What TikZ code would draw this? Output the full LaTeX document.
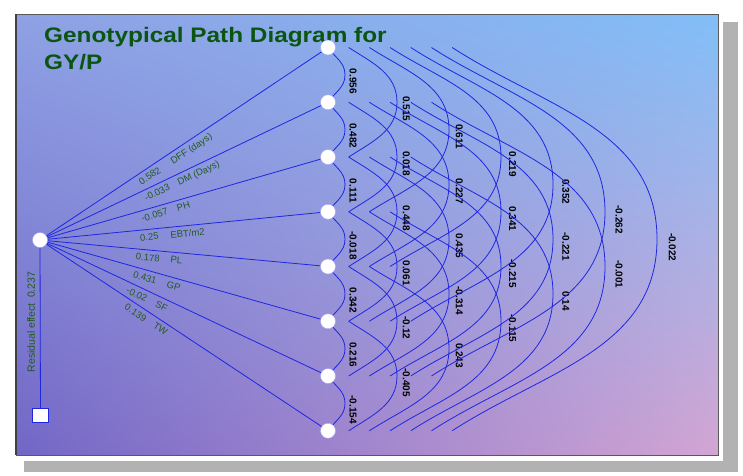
\documentclass[tikz,border=0pt]{standalone}
\usepackage{fontspec}
\setmainfont{Liberation Sans}
\newfontfamily\titlefont{Liberation Sans}[FakeStretch=1.16]
\usetikzlibrary{calc,shadings}
\pgfdeclarelayer{bg}
\pgfdeclarelayer{wires}
\pgfsetlayers{bg,wires,main}
\definecolor{pathblue}{HTML}{1E26E0}
\definecolor{titlegreen}{HTML}{0B5512}
\definecolor{labelgreen}{HTML}{235A23}
\definecolor{bgul}{HTML}{8FA1E4}
\definecolor{bgur}{HTML}{82BEF7}
\definecolor{bgll}{HTML}{7266C6}
\definecolor{bglr}{HTML}{D3A5D3}
\tikzset{
  trait/.style={circle, draw=blue!35, fill=white, minimum size=15pt, inner sep=0pt},
  resbox/.style={draw=pathblue, fill=white, minimum width=16pt, minimum height=14pt, inner sep=0pt},
  coef/.style={font=\fontsize{9.5}{9.5}\selectfont, text=labelgreen, inner sep=1.5pt},
  corr/.style={font=\fontsize{10}{10}\selectfont\bfseries, rotate=-90, inner sep=0pt},
  link/.style={draw=pathblue, line width=0.8pt}
}
\begin{document}
\begin{tikzpicture}[x=1pt, y=-1pt]
\useasboundingbox (0,0) rectangle (743,475);
\begin{pgfonlayer}{bg}
  \fill[white] (0,0) rectangle (743,475);
  \fill[black!30] (24,22) rectangle (738,472);
  \fill[white] (10,9) rectangle (723,461);
  \shade[upper left=bgul, upper right=bgur, lower left=bgll, lower right=bglr]
    (16,14) rectangle (718,455);
  \draw[black!65, line width=1pt] (16,14) rectangle (718,455);
  \draw[black!75, line width=2pt] (16,14) -- (16,455);
\end{pgfonlayer}

\node[anchor=north west, align=left, inner sep=0pt, text=titlegreen,
  font=\fontsize{21}{27}\titlefont\bfseries] (title) at (44,27.5)
  {Genotypical Path Diagram for\\GY/P};

\node[trait] (res) at (40,240) {};
\node[resbox] (rsq) at (40.5,415) {};
\foreach \i in {1,...,8}
  \node[trait] (n\i) at (328,{47.5+54.75*(\i-1)}) {};

\begin{pgfonlayer}{wires}
  \draw[link] (res) -- (rsq);
  \foreach \i/\v/\t/\a/\b in {1/0.582/DFF (days)/0.36/0.51,
                               2/-0.033/DM (Days)/0.39/0.54,
                               3/-0.057/PH/0.385/0.49,
                               4/0.25/{EBT/m2}/0.37/0.51,
                               5/0.178/PL/0.37/0.475,
                               6/0.431/GP/0.365/0.47,
                               7/-0.02/SF/0.34/0.43,
                               8/0.139/TW/0.34/0.43}
    \draw[link] (res) -- (n\i)
      node[coef, sloped, below=2.5pt, pos=\a] (c\i) {\v}
      node[coef, sloped, below=2.5pt, pos=\b] (t\i) {\t};
  \foreach \i/\j/\r in {1/2/0.956, 2/3/0.482, 3/4/0.111, 4/5/-0.018,
                        5/6/0.342, 6/7/0.216, 7/8/-0.154,
                        1/3/0.515, 2/4/0.018, 3/5/0.448, 4/6/0.061,
                        5/7/-0.12, 6/8/-0.405,
                        1/4/0.611, 2/5/0.227, 3/6/0.435, 4/7/-0.314, 5/8/0.243,
                        1/5/0.219, 2/6/0.341, 3/7/-0.215, 4/8/-0.115,
                        1/6/0.352, 2/7/-0.221, 3/8/0.14,
                        1/7/-0.262, 2/8/-0.001,
                        1/8/-0.022} {
    \pgfmathtruncatemacro\k{\j-\i}
    \pgfmathsetmacro\sx{20.7*(\k-1)}
    \pgfmathsetmacro\px{345+52*(\k-1)}
    \pgfmathsetmacro\py{47.5+54.75*(\i+\j-2)/2}
    \pgfmathsetmacro\ang{ifthenelse(\k==1,-55,-33)}
    \draw[link] ($(n\i)+(\sx,0)$) to[out=\ang, in=90] (\px,\py)
      to[out=-90, in=-\ang] ($(n\j)+(\sx,0)$);
    \node[corr] (r\i\j) at (\px+8+1.2*\k-1.2,\py+6+0.3*\k) {\r};
  }
\end{pgfonlayer}

\node[coef, rotate=90, font=\fontsize{10.5}{10.5}\selectfont] (reslab) at (31,322)
  {Residual effect\enspace 0.237};
\end{tikzpicture}
\end{document}
